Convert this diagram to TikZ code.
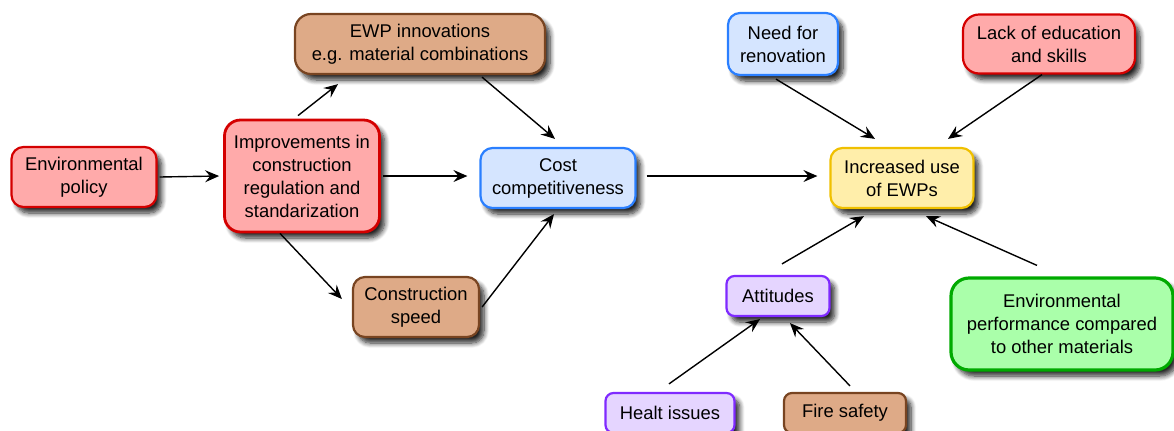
\documentclass[tikz,border=0pt]{standalone}
\usepackage{fontspec}
\setmainfont{Liberation Sans}
\usetikzlibrary{arrows.meta,shadows.blur}
\definecolor{redfill}{HTML}{FFAAAA}
\definecolor{redline}{HTML}{D40000}
\definecolor{brownfill}{HTML}{DEAA87}
\definecolor{brownline}{HTML}{784421}
\definecolor{bluefill}{HTML}{D5E5FF}
\definecolor{blueline}{HTML}{2A7FFF}
\definecolor{yellowfill}{HTML}{FFEEAA}
\definecolor{yellowline}{HTML}{F0C000}
\definecolor{purplefill}{HTML}{E5D5FF}
\definecolor{purpleline}{HTML}{7F2AFF}
\definecolor{greenfill}{HTML}{AAFFAA}
\definecolor{greenline}{HTML}{00AA00}
\begin{document}
\begin{tikzpicture}[x=0.5pt,y=-0.5pt,
  box/.style={rounded corners=6pt,line width=1.1pt,align=center,inner sep=2pt,
    font=\fontsize{9.2}{11.5}\selectfont,
    blur shadow={shadow xshift=2.5pt,shadow yshift=-3pt,shadow blur radius=2.5pt,shadow blur steps=8,shadow opacity=85}},
  redbox/.style={box,fill=redfill,draw=redline},
  brownbox/.style={box,fill=brownfill,draw=brownline},
  bluebox/.style={box,fill=bluefill,draw=blueline},
  yellowbox/.style={box,fill=yellowfill,draw=yellowline},
  purplebox/.style={box,fill=purplefill,draw=purpleline},
  greenbox/.style={box,fill=greenfill,draw=greenline,line width=1.6pt,rounded corners=9pt},
  arr/.style={-{Stealth[length=7pt,width=6pt,inset=2.5pt]},line width=0.7pt}]
\useasboundingbox (0,0) rectangle (1174,430);

% left part
\node[redbox,minimum width=72.5pt,minimum height=30pt] (envpol) at (84,177) {Environmental\\policy};
\node[redbox,minimum width=77.5pt,minimum height=56pt,line width=1.4pt,rounded corners=8pt] (improv) at (302,176) {Improvements in\\construction\\regulation and\\standarization};
\node[brownbox,minimum width=125pt,minimum height=30pt,rounded corners=8pt] (ewp) at (420,44) {EWP innovations\\e.g. material combinations};
\node[bluebox,minimum width=77.5pt,minimum height=30pt] (cost) at (558,178) {Cost\\competitiveness};
\node[brownbox,minimum width=63pt,minimum height=30pt] (speed) at (416,307) {Construction\\speed};

% right part
\node[bluebox,minimum width=55pt,minimum height=31pt] (need) at (783,44) {Need for\\renovation};
\node[redbox,minimum width=86pt,minimum height=29.5pt,rounded corners=8pt] (lack) at (1049,44) {Lack of education\\and skills};
\node[yellowbox,minimum width=71.5pt,minimum height=30pt] (incr) at (902,178) {Increased use\\of EWPs};
\node[purplebox,minimum width=51.5pt,minimum height=20pt,rounded corners=4pt] (att) at (778,296) {Attitudes};
\node[greenbox,minimum width=111pt,minimum height=46pt] (envperf) at (1062,324) {Environmental\\performance compared\\to other materials};
\node[purplebox,minimum width=64.5pt,minimum height=20pt,rounded corners=4pt] (healt) at (670,413) {Healt issues};
\node[brownbox,minimum width=61pt,minimum height=20pt,rounded corners=4pt] (fire) at (845,413) {Fire safety};

% arrows
\draw[arr] ([xshift=1pt]envpol.east) -- ([xshift=-2pt]improv.west);
\draw[arr] ([xshift=-2pt,yshift=1.5pt]improv.north) -- ([xshift=-41pt,yshift=-4.5pt]ewp.south);
\draw[arr] ([xshift=31pt,yshift=-1pt]ewp.south) -- ([xshift=-1.5pt,yshift=4pt]cost.north);
\draw[arr] ([xshift=1pt]improv.east) -- ([xshift=-6pt,yshift=1pt]cost.west);
\draw[arr] ([xshift=-11pt]improv.south) -- ([xshift=-5pt,yshift=4pt]speed.west);
\draw[arr] ([xshift=1pt]speed.east) -- ([xshift=-2pt,yshift=-2.5pt]cost.south);
\draw[arr] ([xshift=5pt,yshift=1pt]cost.east) -- ([xshift=-6pt,yshift=1pt]incr.west);
\draw[arr] ([xshift=-3.5pt,yshift=-1.5pt]need.south) -- ([xshift=-13.5pt,yshift=4pt]incr.north);
\draw[arr] ([xshift=-3.5pt]lack.south) -- ([xshift=23pt,yshift=4pt]incr.north);
\draw[arr] ([xshift=2pt,yshift=5.5pt]att.north) -- ([xshift=-19pt,yshift=-3.5pt]incr.south);
\draw[arr] ([xshift=-12.5pt,yshift=5.5pt]envperf.north) -- ([xshift=12pt,yshift=-3.5pt]incr.south);
\draw[arr] ([xshift=-0.5pt,yshift=4pt]healt.north) -- ([xshift=-9pt,yshift=-1pt]att.south);
\draw[arr] ([xshift=2.5pt,yshift=3pt]fire.north) -- ([xshift=6pt,yshift=-3pt]att.south);
\end{tikzpicture}
\end{document}
